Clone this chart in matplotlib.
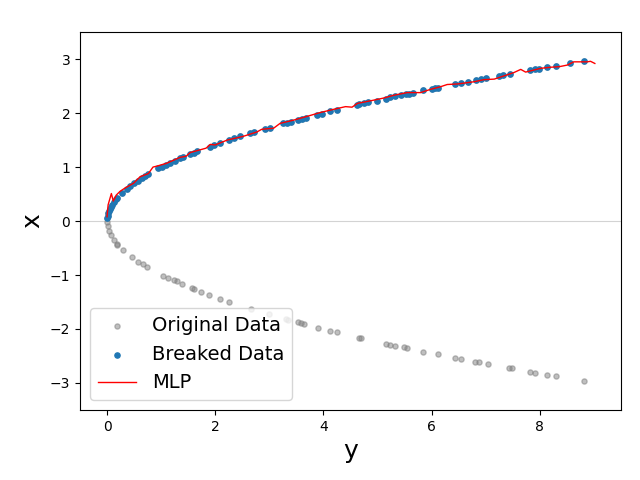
import matplotlib
matplotlib.use("Agg")
import matplotlib.pyplot as plt
import numpy as np

# Original data on the negative branch (y = x^2, x < 0)
neg_y = [0.006, 0.024, 0.04, 0.07, 0.135, 0.18, 0.19, 0.30, 0.46, 0.58, 0.66, 0.735,
         1.04, 1.12, 1.23, 1.29, 1.38, 1.57, 1.60, 1.74, 1.89, 2.09, 2.26, 2.66, 2.99,
         3.30, 3.35, 3.54, 3.59, 3.65, 3.91, 4.13, 4.26, 4.65, 4.69, 5.15, 5.23, 5.32,
         5.49, 5.55, 5.85, 6.12, 6.44, 6.54, 6.81, 6.88, 7.04, 7.43, 7.48, 7.82, 7.91,
         8.14, 8.31, 8.82]
neg_x = [-0.02, -0.09, -0.18, -0.26, -0.35, -0.43, -0.44, -0.54, -0.67, -0.76, -0.80, -0.86,
         -1.02, -1.05, -1.10, -1.12, -1.17, -1.25, -1.26, -1.32, -1.37, -1.45, -1.50, -1.63, -1.73,
         -1.82, -1.83, -1.88, -1.89, -1.91, -1.98, -2.03, -2.06, -2.16, -2.17, -2.27, -2.29, -2.31,
         -2.34, -2.36, -2.42, -2.47, -2.54, -2.56, -2.61, -2.62, -2.65, -2.73, -2.73, -2.80, -2.81,
         -2.85, -2.88, -2.97]

# Breaked data (positive branch)
pos_y = [0.003, 0.01, 0.02, 0.035, 0.05, 0.065, 0.09, 0.12, 0.16, 0.18, 0.27, 0.365, 0.43,
         0.49, 0.57, 0.64, 0.70, 0.765, 0.95, 1.01, 1.09, 1.17, 1.26, 1.35, 1.41, 1.54, 1.60,
         1.66, 1.91, 1.97, 2.09, 2.26, 2.35, 2.45, 2.65, 2.71, 2.93, 3.01, 3.26, 3.33, 3.40,
         3.54, 3.61, 3.67, 3.88, 3.98, 4.13, 4.25, 4.62, 4.65, 4.75, 4.83, 4.99, 5.15, 5.23,
         5.32, 5.43, 5.52, 5.59, 5.65, 5.84, 6.00, 6.06, 6.12, 6.43, 6.54, 6.68, 6.83, 6.91,
         7.00, 7.25, 7.33, 7.46, 7.82, 7.91, 7.98, 8.14, 8.31, 8.56, 8.82]
pos_x = [0.05, 0.10, 0.14, 0.19, 0.22, 0.26, 0.30, 0.35, 0.40, 0.42, 0.52, 0.60, 0.65,
         0.70, 0.75, 0.80, 0.84, 0.875, 0.975, 1.005, 1.04, 1.08, 1.12, 1.16, 1.19, 1.24, 1.26,
         1.29, 1.38, 1.40, 1.45, 1.50, 1.53, 1.57, 1.63, 1.65, 1.71, 1.73, 1.81, 1.82, 1.84,
         1.88, 1.90, 1.91, 1.97, 1.99, 2.03, 2.06, 2.15, 2.16, 2.18, 2.20, 2.23, 2.27, 2.29,
         2.31, 2.33, 2.35, 2.36, 2.38, 2.42, 2.45, 2.46, 2.47, 2.54, 2.56, 2.58, 2.61, 2.63,
         2.65, 2.69, 2.71, 2.73, 2.80, 2.81, 2.82, 2.85, 2.88, 2.93, 2.97]

# MLP prediction curve
mlp_y = [0.0, 0.02, 0.08, 0.115, 0.17, 0.24, 0.33, 0.49, 0.61, 0.765, 0.85, 0.93, 1.10,
         1.35, 1.46, 1.54, 1.83, 1.91, 2.0, 2.22, 2.52, 2.77, 2.86, 3.08, 3.20, 3.45, 3.70,
         3.94, 4.19, 4.41, 4.53, 4.63, 4.93, 5.12, 5.30, 5.55, 5.80, 5.98, 6.17, 6.29, 6.48,
         6.78, 6.97, 7.16, 7.34, 7.52, 7.65, 7.74, 8.02, 8.20, 8.36, 8.51, 8.63, 8.88, 8.94, 9.02]
mlp_x = [0.08, 0.30, 0.51, 0.37, 0.48, 0.55, 0.61, 0.70, 0.82, 0.88, 1.0, 1.02, 1.07,
         1.18, 1.20, 1.27, 1.35, 1.42, 1.41, 1.50, 1.57, 1.65, 1.70, 1.72, 1.81, 1.87, 1.94,
         2.01, 2.07, 2.12, 2.11, 2.18, 2.24, 2.28, 2.33, 2.38, 2.38, 2.44, 2.49, 2.53, 2.54,
         2.58, 2.62, 2.63, 2.69, 2.75, 2.81, 2.76, 2.83, 2.85, 2.86, 2.89, 2.95, 2.95, 2.96, 2.92]

orig_y = neg_y + pos_y
orig_x = neg_x + pos_x

fig, ax = plt.subplots(figsize=(6.4, 4.8), dpi=100)
fig.subplots_adjust(left=0.125, right=0.970, bottom=0.146, top=0.933)
ax.axhline(0, color="lightgray", linewidth=0.8, zorder=0)
ax.scatter(orig_y, orig_x, s=14, color="gray", alpha=0.5, label="Original Data")
ax.scatter(pos_y, pos_x, s=14, color="C0", label="Breaked Data")
ax.plot(mlp_y, mlp_x, color="red", linewidth=1, label="MLP")
ax.set_xlim(-0.5, 9.5)
ax.set_ylim(-3.5, 3.5)
ax.set_xlabel("y", fontsize=18)
ax.set_ylabel("x", fontsize=18)
ax.legend(loc="lower left", fontsize=14)
fig.savefig("out.png", dpi=100)
